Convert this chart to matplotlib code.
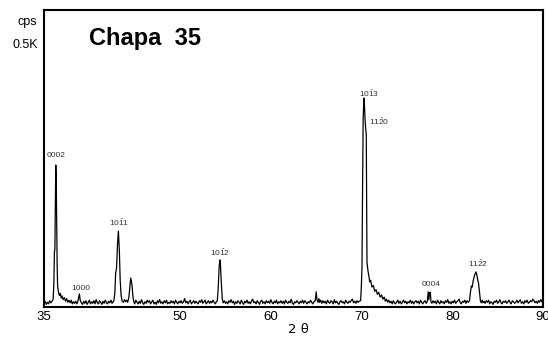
import matplotlib
matplotlib.use("Agg")
import matplotlib.pyplot as plt

plt.rcParams['font.family'] = ['Liberation Sans', 'DejaVu Sans']
plt.rcParams['mathtext.fontset'] = 'custom'
plt.rcParams['mathtext.rm'] = 'Liberation Sans'

scan = [
    # 35 - 36
    (35.00, 7), (35.12, 11), (35.25, 5), (35.38, 9), (35.50, 6), (35.62, 12),
    (35.75, 8), (35.88, 11), (36.00, 14),
    # 0002
    (36.08, 40), (36.15, 105), (36.20, 110), (36.25, 200), (36.30, 271),
    (36.35, 240), (36.40, 160), (36.45, 80), (36.50, 40), (36.60, 28),
    (36.70, 22), (36.80, 26), (36.90, 17),
    # tail + 1000
    (37.00, 21), (37.12, 14), (37.25, 18), (37.38, 11), (37.50, 16),
    (37.62, 9), (37.75, 13), (37.88, 8), (38.00, 13), (38.12, 6),
    (38.25, 10), (38.38, 7), (38.50, 11), (38.62, 6), (38.70, 9),
    (38.80, 16), (38.90, 25), (39.00, 12), (39.12, 8), (39.25, 5),
    (39.38, 11), (39.50, 7), (39.62, 12), (39.75, 5), (39.88, 9),
    (40.00, 13), (40.12, 6), (40.25, 10), (40.38, 7), (40.50, 12),
    (40.62, 6), (40.75, 14), (40.88, 8), (41.00, 6), (41.12, 12),
    (41.25, 9), (41.38, 5), (41.50, 11), (41.62, 7), (41.75, 13),
    (41.88, 8), (42.00, 6), (42.12, 11), (42.25, 8), (42.38, 13),
    (42.50, 7), (42.62, 10), (42.70, 12),
    # 10-11 and neighbour
    (42.80, 25), (42.90, 65), (43.00, 75), (43.10, 120), (43.20, 145),
    (43.30, 110), (43.40, 50), (43.50, 22), (43.60, 12), (43.75, 9),
    (43.88, 14), (44.00, 10), (44.12, 13), (44.22, 9), (44.35, 18),
    (44.45, 35), (44.55, 55), (44.62, 50), (44.70, 42), (44.80, 20),
    (44.90, 10), (45.00, 6),
    # 45 - 54
    (45.12, 13), (45.25, 9), (45.38, 6), (45.50, 11), (45.62, 7),
    (45.75, 14), (45.88, 8), (46.00, 5), (46.12, 10), (46.25, 7),
    (46.38, 13), (46.50, 9), (46.62, 12), (46.75, 6), (46.88, 10),
    (47.00, 13), (47.12, 6), (47.25, 9), (47.38, 5), (47.50, 12),
    (47.62, 8), (47.75, 14), (47.88, 7), (48.00, 10), (48.12, 6),
    (48.25, 12), (48.38, 8), (48.50, 13), (48.62, 6), (48.75, 9),
    (48.88, 7), (49.00, 12), (49.12, 8), (49.25, 11), (49.38, 6),
    (49.50, 13), (49.62, 9), (49.75, 6), (49.88, 11), (50.00, 8),
    (50.12, 12), (50.25, 7), (50.38, 10), (50.50, 16), (50.62, 8),
    (50.75, 11), (50.88, 6), (51.00, 10), (51.12, 13), (51.25, 6),
    (51.38, 9), (51.50, 12), (51.62, 7), (51.75, 11), (51.88, 8),
    (52.00, 6), (52.12, 12), (52.25, 9), (52.38, 14), (52.50, 7),
    (52.62, 10), (52.75, 13), (52.88, 6), (53.00, 9), (53.12, 12),
    (53.25, 7), (53.38, 11), (53.50, 8), (53.62, 13), (53.75, 9),
    (53.88, 6), (54.00, 10),
    # 10-12
    (54.10, 12), (54.20, 35), (54.30, 75), (54.38, 90), (54.45, 80),
    (54.55, 45), (54.65, 15), (54.75, 8),
    # 55 - 65
    (54.88, 12), (55.00, 7), (55.12, 10), (55.25, 6), (55.38, 12),
    (55.50, 9), (55.62, 14), (55.75, 8), (55.88, 11), (56.00, 5),
    (56.12, 10), (56.25, 7), (56.38, 12), (56.50, 9), (56.62, 6),
    (56.75, 13), (56.88, 8), (57.00, 5), (57.12, 11), (57.25, 8),
    (57.38, 13), (57.50, 7), (57.62, 10), (57.75, 6), (57.88, 12),
    (58.00, 15), (58.12, 8), (58.25, 10), (58.38, 6), (58.50, 12),
    (58.62, 9), (58.75, 5), (58.88, 11), (59.00, 13), (59.12, 7),
    (59.25, 10), (59.38, 6), (59.50, 12), (59.62, 8), (59.75, 11),
    (59.88, 7), (60.00, 14), (60.12, 9), (60.25, 6), (60.38, 11),
    (60.50, 8), (60.62, 13), (60.75, 6), (60.88, 10), (61.00, 8),
    (61.12, 12), (61.25, 7), (61.38, 11), (61.50, 6), (61.62, 13),
    (61.75, 9), (61.88, 7), (62.00, 11), (62.12, 8), (62.25, 15),
    (62.38, 7), (62.50, 5), (62.62, 10), (62.75, 8), (62.88, 12),
    (63.00, 9), (63.12, 6), (63.25, 11), (63.38, 8), (63.50, 13),
    (63.62, 7), (63.75, 12), (63.88, 9), (64.00, 6), (64.12, 10),
    (64.25, 8), (64.38, 13), (64.50, 9), (64.62, 6), (64.75, 10),
    (64.90, 12), (65.00, 29), (65.08, 15), (65.20, 9),
    (65.30, 16), (65.38, 9), (65.50, 13), (65.62, 7), (65.75, 12),
    (65.88, 8), (66.00, 11), (66.12, 6), (66.25, 13), (66.38, 9),
    (66.50, 7), (66.62, 12), (66.75, 10), (66.88, 6), (67.00, 14),
    (67.12, 8), (67.25, 11), (67.38, 7), (67.50, 5), (67.62, 10),
    (67.75, 12), (67.88, 8), (68.00, 10), (68.12, 6), (68.25, 13),
    (68.38, 9), (68.50, 7), (68.62, 11), (68.75, 9), (68.88, 13),
    (69.00, 15), (69.12, 8), (69.25, 11), (69.38, 7), (69.50, 12),
    (69.62, 9), (69.75, 11), (69.90, 12),
    # 10-13 / 11-20
    (69.98, 40), (70.05, 76), (70.10, 200), (70.18, 360), (70.26, 399),
    (70.32, 385), (70.38, 360), (70.45, 342), (70.52, 330), (70.56, 200),
    (70.60, 86), (70.70, 70), (70.80, 60), (70.90, 48), (71.00, 51),
    (71.15, 38), (71.30, 41), (71.45, 30), (71.60, 33), (71.75, 24),
    (71.90, 28), (72.05, 19), (72.20, 23), (72.35, 15), (72.50, 19),
    (72.62, 11), (72.75, 15), (72.88, 9), (73.00, 13),
    # 73 - 77
    (73.12, 8), (73.25, 11), (73.38, 6), (73.50, 12), (73.62, 8),
    (73.75, 6), (73.88, 10), (74.00, 13), (74.12, 7), (74.25, 11),
    (74.38, 6), (74.50, 9), (74.62, 13), (74.75, 8), (74.88, 11),
    (75.00, 6), (75.12, 10), (75.25, 8), (75.38, 13), (75.50, 7),
    (75.62, 11), (75.75, 6), (75.88, 10), (76.00, 12), (76.12, 8),
    (76.25, 11), (76.38, 6), (76.50, 13), (76.62, 9), (76.75, 6),
    (76.88, 10), (77.00, 12), (77.12, 7), (77.25, 11),
    # 0004
    (77.35, 29), (77.42, 14), (77.50, 27), (77.58, 28), (77.65, 10), (77.75, 7),
    # 78 - 82
    (77.88, 12), (78.00, 8), (78.12, 11), (78.25, 6), (78.38, 13),
    (78.50, 9), (78.62, 6), (78.75, 12), (78.88, 8), (79.00, 10),
    (79.12, 6), (79.25, 12), (79.38, 9), (79.50, 14), (79.62, 7),
    (79.75, 10), (79.88, 6), (80.00, 11), (80.12, 8), (80.25, 13),
    (80.38, 7), (80.50, 10), (80.62, 12), (80.75, 15), (80.88, 8),
    (81.00, 6), (81.12, 11), (81.25, 9), (81.38, 13), (81.50, 7),
    (81.62, 12), (81.75, 9),
    # 11-22
    (81.90, 12), (82.00, 28), (82.10, 40), (82.20, 38), (82.30, 50),
    (82.45, 60), (82.60, 67), (82.70, 62), (82.80, 52), (82.90, 45),
    (83.00, 28), (83.10, 12), (83.20, 8),
    # 83.3 - 90
    (83.30, 13), (83.38, 8), (83.50, 11), (83.62, 7), (83.75, 12),
    (83.88, 9), (84.00, 13), (84.12, 6), (84.25, 10), (84.38, 8),
    (84.50, 5), (84.62, 11), (84.75, 9), (84.88, 13), (85.00, 7),
    (85.12, 10), (85.25, 14), (85.38, 8), (85.50, 6), (85.62, 11),
    (85.75, 9), (85.88, 12), (86.00, 7), (86.12, 10), (86.25, 13),
    (86.38, 8), (86.50, 6), (86.62, 12), (86.75, 10), (86.88, 7),
    (87.00, 9), (87.12, 13), (87.25, 8), (87.38, 11), (87.50, 14),
    (87.62, 7), (87.75, 10), (87.88, 6), (88.00, 12), (88.12, 9),
    (88.25, 13), (88.38, 7), (88.50, 9), (88.62, 12), (88.75, 10),
    (88.88, 15), (89.00, 12), (89.12, 8), (89.25, 11), (89.38, 7),
    (89.50, 12), (89.62, 9), (89.75, 14), (89.88, 10), (90.00, 18),
]
two_theta = [p[0] for p in scan]
cps = [p[1] for p in scan]

# peak labels (Miller-Bravais indices) and where they sit
peak_labels = ['0002', '1000', r'$\mathrm{10\bar{1}1}$', r'$\mathrm{10\bar{1}2}$',
               r'$\mathrm{10\bar{1}3}$', r'$\mathrm{11\bar{2}0}$', '0004',
               r'$\mathrm{11\bar{2}2}$']
label_x = [36.3, 39.1, 43.3, 54.4, 70.8, 71.9, 77.7, 82.8]
label_y = [290, 36, 160, 103, 408, 353, 42, 82]

xticks = [35, 50, 60, 70, 80, 90]

fig = plt.figure(figsize=(5.48, 3.37), dpi=100)
ax = fig.add_axes([44 / 548, 30 / 337, 499 / 548, 297 / 337])

ax.plot(two_theta, cps, color='black', linewidth=0.9)

for lab, lx, ly in zip(peak_labels, label_x, label_y):
    ax.text(lx, ly, lab, fontsize=6, color='#333333', ha='center', va='center')

ax.set_xlim(35, 90)
ax.set_ylim(0, 567)
ax.set_xticks(xticks)
ax.set_xticklabels([str(t) for t in xticks])
ax.set_yticks([])
ax.tick_params(axis='x', length=0, pad=3, labelsize=9.5)
for s in ax.spines.values():
    s.set_linewidth(1.5)
    s.set_color('black')

ax.text(0.51, -0.055, '2 θ', transform=ax.transAxes, ha='center', va='top',
        fontsize=9.5, family=['DejaVu Sans'])
ax.text(0.09, 0.905, 'Chapa  35', transform=ax.transAxes, fontsize=17,
        fontweight='bold', ha='left', va='center')

fig.text(37 / 548, 1 - 22 / 337, 'cps', ha='right', va='center', fontsize=9)
fig.text(38 / 548, 1 - 45 / 337, '0.5K', ha='right', va='center', fontsize=9)

fig.savefig('out.png', dpi=100)
